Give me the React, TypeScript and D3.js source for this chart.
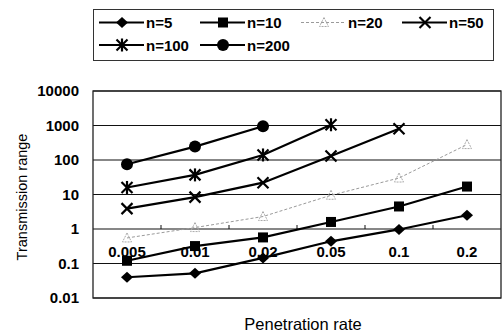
import React, { FC, RefObject, useEffect, useRef } from "react"
import { axisBottom, axisLeft, line, scaleBand, scaleLog, select, Selection } from "d3"

// data
const rates = ["0.005", "0.01", "0.02", "0.05", "0.1", "0.2"]
const yTickValues = [0.01, 0.1, 1, 10, 100, 1000, 10000]

const n5 = [0.04, 0.052, 0.145, 0.44, 0.97, 2.5]
const n10 = [0.12, 0.32, 0.57, 1.6, 4.5, 17]
const n20 = [0.55, 1.1, 2.3, 9.5, 30, 280]
const n50 = [3.9, 8.4, 22, 130, 800]
const n100 = [16, 37, 140, 1050]
const n200 = [75, 245, 950]

type Marker = "diamond" | "square" | "triangle" | "x" | "star" | "circle"

type Series = {
  label: string
  values: number[]
  marker: Marker
  faint?: boolean
}

const series: Series[] = [
  { label: "n=5", values: n5, marker: "diamond" },
  { label: "n=10", values: n10, marker: "square" },
  { label: "n=20", values: n20, marker: "triangle", faint: true },
  { label: "n=50", values: n50, marker: "x" },
  { label: "n=100", values: n100, marker: "star" },
  { label: "n=200", values: n200, marker: "circle" },
]

const FONT = "'Liberation Sans', Arial, sans-serif"

type G = Selection<SVGGElement, unknown, null, undefined>

const drawMarker = (g: G, marker: Marker, cx: number, cy: number) => {
  if (marker === "diamond") {
    g.append("polygon")
      .attr("points", `${cx - 6},${cy} ${cx},${cy - 5.5} ${cx + 6},${cy} ${cx},${cy + 5.5}`)
      .attr("fill", "#000")
  } else if (marker === "square") {
    g.append("rect")
      .attr("x", cx - 5)
      .attr("y", cy - 5)
      .attr("width", 10)
      .attr("height", 10)
      .attr("fill", "#000")
  } else if (marker === "triangle") {
    g.append("polygon")
      .attr("points", `${cx},${cy - 5} ${cx + 4.5},${cy + 4} ${cx - 4.5},${cy + 4}`)
      .attr("fill", "none")
      .attr("stroke", "#aaa")
      .attr("stroke-width", 1)
      .attr("stroke-dasharray", "2,1")
  } else if (marker === "circle") {
    g.append("circle").attr("cx", cx).attr("cy", cy).attr("r", 6).attr("fill", "#000")
  } else {
    const s = 5.5
    const segs = [
      [cx - s, cy - s, cx + s, cy + s],
      [cx - s, cy + s, cx + s, cy - s],
    ]
    if (marker === "star") segs.push([cx, cy - s - 1, cx, cy + s + 1])
    segs.forEach(([x1, y1, x2, y2]) => {
      g.append("line")
        .attr("x1", x1)
        .attr("y1", y1)
        .attr("x2", x2)
        .attr("y2", y2)
        .attr("stroke", "#000")
        .attr("stroke-width", 2.2)
    })
  }
}

const App: FC = () => {
  const wrapperRef = useRef<HTMLDivElement>(null)

  useEffect(() => {
    drawChart(wrapperRef)
  }, [])

  const drawChart = (wrapperRef: RefObject<HTMLDivElement>) => {
    const width = 503
    const height = 333
    const plot = { left: 93, right: 501, top: 91, bottom: 298 }

    select(wrapperRef.current).selectAll("*").remove()

    const svg = select(wrapperRef.current)
      .append("svg")
      .attr("width", width)
      .attr("height", height)
      .style("position", "absolute")
      .style("left", "0px")
      .style("top", "0px")
      .style("background", "#fff")

    // scales
    const xScale = scaleBand<string>().domain(rates).range([plot.left, plot.right]).padding(0)
    const yScale = scaleLog().domain([0.01, 10000]).range([plot.bottom, plot.top])
    const xCenter = (i: number) => (xScale(rates[i]) ?? 0) + xScale.bandwidth() / 2

    // grid lines
    svg
      .append("g")
      .selectAll("line")
      .data(yTickValues)
      .join("line")
      .attr("x1", plot.left)
      .attr("x2", plot.right)
      .attr("y1", (d) => yScale(d))
      .attr("y2", (d) => yScale(d))
      .attr("stroke", "#111")
      .attr("stroke-width", 1.2)

    // plot border
    svg
      .append("rect")
      .attr("x", plot.left)
      .attr("y", plot.top)
      .attr("width", plot.right - plot.left)
      .attr("height", plot.bottom - plot.top)
      .attr("fill", "none")
      .attr("stroke", "#222")
      .attr("stroke-width", 1.3)

    // y axis labels
    const yAxis = svg
      .append("g")
      .attr("transform", `translate(${plot.left},0)`)
      .call(
        axisLeft(yScale)
          .tickValues(yTickValues)
          .tickFormat((d) => String(d))
          .tickSize(0)
          .tickPadding(14),
      )
    yAxis.select(".domain").remove()
    yAxis
      .selectAll("text")
      .attr("font-family", FONT)
      .attr("font-weight", "bold")
      .attr("font-size", 15)
      .attr("fill", "#000")

    // x axis crosses at 1
    const axisY = yScale(1)
    const xAxis = svg
      .append("g")
      .attr("transform", `translate(0,${axisY})`)
      .call(axisBottom(xScale).tickSize(0).tickPadding(17))
    xAxis.select(".domain").remove()
    xAxis
      .selectAll("text")
      .attr("font-family", FONT)
      .attr("font-weight", "bold")
      .attr("font-size", 15)
      .attr("fill", "#000")

    // category boundary ticks
    svg
      .append("g")
      .selectAll("line")
      .data(rates.slice(1))
      .join("line")
      .attr("x1", (d) => xScale(d) ?? 0)
      .attr("x2", (d) => xScale(d) ?? 0)
      .attr("y1", axisY)
      .attr("y2", axisY - 4)
      .attr("stroke", "#111")
      .attr("stroke-width", 1)

    // series
    const lineGenerator = line<number>()
      .x((_, i) => xCenter(i))
      .y((d) => yScale(d))

    series.forEach((s) => {
      svg
        .append("path")
        .attr("d", lineGenerator(s.values))
        .attr("fill", "none")
        .attr("stroke", s.faint ? "#9a9a9a" : "#000")
        .attr("stroke-width", s.faint ? 1 : 2.2)
        .attr("stroke-dasharray", s.faint ? "3,2" : null)
      const g = svg.append("g")
      s.values.forEach((v, i) => drawMarker(g, s.marker, xCenter(i), yScale(v)))
    })

    // legend
    const legend = svg.append("g")
    legend
      .append("rect")
      .attr("x", 93.5)
      .attr("y", 9.5)
      .attr("width", 400)
      .attr("height", 51)
      .attr("fill", "#fff")
      .attr("stroke", "#333")
      .attr("stroke-width", 1)

    series.forEach((s, i) => {
      const col = i < 4 ? i : i - 4
      const row = i < 4 ? 0 : 1
      const x0 = 99 + col * 101
      const cy = 22.5 + row * 22.5
      const g = legend.append("g")
      g.append("line")
        .attr("x1", x0)
        .attr("x2", x0 + 45)
        .attr("y1", cy)
        .attr("y2", cy)
        .attr("stroke", s.faint ? "#9a9a9a" : "#000")
        .attr("stroke-width", s.faint ? 1 : 2)
        .attr("stroke-dasharray", s.faint ? "3,2" : null)
      drawMarker(g, s.marker, x0 + 23, cy)
      g.append("text")
        .attr("x", x0 + 47)
        .attr("y", cy + 5.5)
        .attr("font-family", FONT)
        .attr("font-weight", "bold")
        .attr("font-size", 15)
        .text(s.label)
    })

    // axis titles
    svg
      .append("text")
      .attr("transform", "translate(26.5,197) rotate(-90)")
      .attr("text-anchor", "middle")
      .attr("font-family", FONT)
      .attr("font-size", 14.5)
      .text("Transmission range")

    svg
      .append("text")
      .attr("x", 303)
      .attr("y", 330)
      .attr("text-anchor", "middle")
      .attr("font-family", FONT)
      .attr("font-size", 16.5)
      .text("Penetration rate")
  }

  return <div ref={wrapperRef} id="wrapper" />
}

export default App
